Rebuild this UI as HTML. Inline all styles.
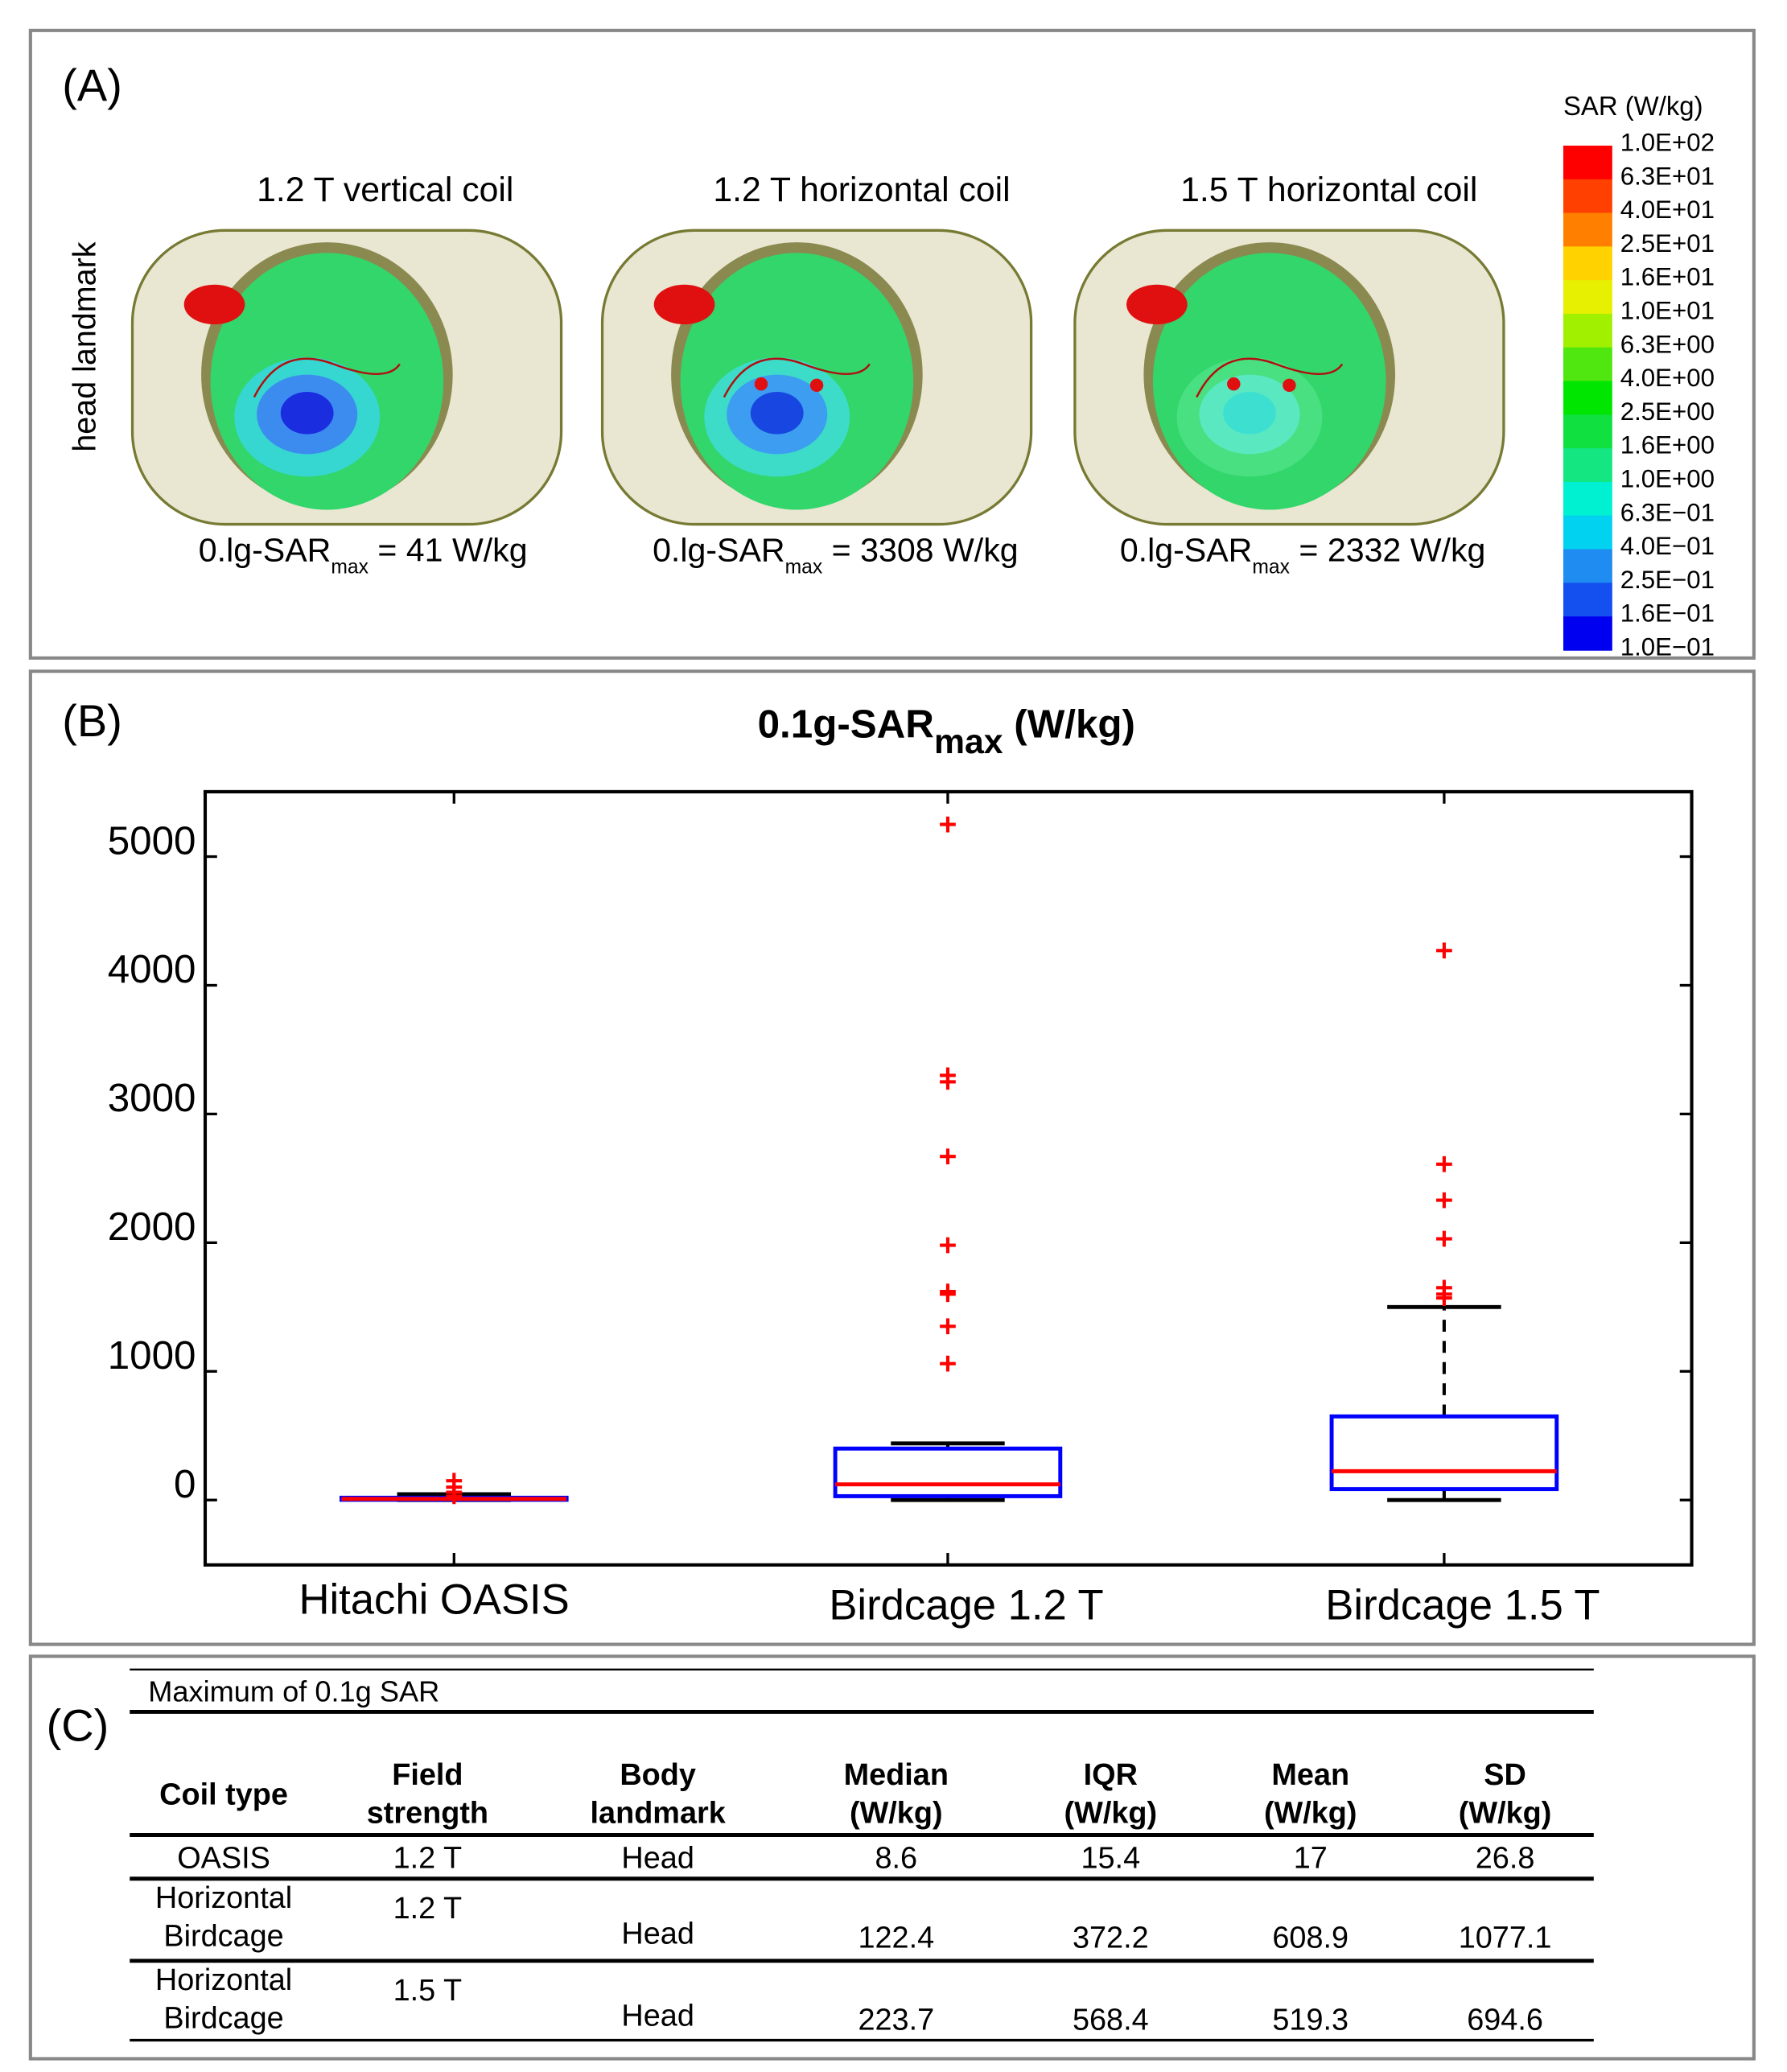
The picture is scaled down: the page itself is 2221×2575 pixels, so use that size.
<!DOCTYPE html>
<html><head><meta charset="utf-8"><style>
html,body{margin:0;padding:0;background:#fff}
svg{display:block}
text{font-family:"Liberation Sans",sans-serif}
</style></head><body>
<svg id="fig" width="2221" height="2575" viewBox="0 0 1350 1565" preserveAspectRatio="none" xmlns="http://www.w3.org/2000/svg">
<!-- Panel A -->
<g>
<rect x="23" y="23" width="1302" height="474" fill="#fff" stroke="#888" stroke-width="2.5"/>
<text x="47" y="76" font-size="34">(A)</text>
<text transform="translate(72,262) rotate(-90)" font-size="24" text-anchor="middle">head landmark</text>
<g id="heads"></g>
<text x="291" y="152" font-size="26" text-anchor="middle">1.2 T vertical coil</text>
<text x="651" y="152" font-size="26" text-anchor="middle">1.2 T horizontal coil</text>
<text x="1004" y="152" font-size="26" text-anchor="middle">1.5 T horizontal coil</text>
<text x="150" y="424" font-size="25">0.lg-SAR<tspan font-size="15" dy="9">max</tspan><tspan dy="-9"> = 41 W/kg</tspan></text>
<text x="493" y="424" font-size="25">0.lg-SAR<tspan font-size="15" dy="9">max</tspan><tspan dy="-9"> = 3308 W/kg</tspan></text>
<text x="846" y="424" font-size="25">0.lg-SAR<tspan font-size="15" dy="9">max</tspan><tspan dy="-9"> = 2332 W/kg</tspan></text>
<text x="1181" y="87" font-size="20">SAR (W/kg)</text>
<g id="cbar"></g>
</g>
<!-- Panel B -->
<g>
<rect x="23" y="507" width="1302" height="735" fill="#fff" stroke="#888" stroke-width="2.5"/>
<text x="47" y="556" font-size="34">(B)</text>
<text x="715" y="557" font-size="30" font-weight="bold" text-anchor="middle">0.1g-SAR<tspan font-size="26" dy="12">max</tspan><tspan dy="-12"> (W/kg)</tspan></text>
<g id="chart"></g>
</g>
<!-- Panel C -->
<g>
<rect x="23" y="1251" width="1302" height="304" fill="#fff" stroke="#888" stroke-width="2.5"/>
<text x="35" y="1315" font-size="34">(C)</text>
<g id="table"></g>
</g>
</svg>
<script>
const NS='http://www.w3.org/2000/svg';
function mk(tag,attrs,parent,txt){const e=document.createElementNS(NS,tag);for(const k in attrs)e.setAttribute(k,attrs[k]);if(txt!==undefined)e.textContent=txt;parent.appendChild(e);return e;}

// ---- chart data ----
const categories=['Hitachi OASIS','Birdcage 1.2 T','Birdcage 1.5 T'];
const q1Values=[2,30,85];
const medianValues=[9,122,224];
const q3Values=[18,400,650];
const whiskerLow=[0,0,0];
const whiskerHigh=[45,440,1500];
const outliers=[[150,100,60,30],[5250,3300,3250,2670,1980,1620,1600,1350,1060],[4270,2610,2330,2030,1650,1600,1570]];
const yTicks=[0,1000,2000,3000,4000,5000];

const PL=155,PR=1278,PT=598,PB=1182;
const yMin=-500,yMax=5500;
const yS=v=>1133-(v-0)*(1133-647)/5000;
const xCenters=[343,716,1091];
const xS=i=>xCenters[i];
const chart=document.getElementById('chart');
const axesBox=mk('rect',{x:PL,y:PT,width:PR-PL,height:PB-PT,fill:'none',stroke:'#000','stroke-width':2.5},chart);


yTicks.forEach(t=>{
  const y=yS(t);
  mk('line',{x1:PL,x2:PL+9,y1:y,y2:y,stroke:'#000','stroke-width':2},chart);
  mk('line',{x1:PR-9,x2:PR,y1:y,y2:y,stroke:'#000','stroke-width':2},chart);
  const tl=mk('text',{x:148,y:y-2,'font-size':30,'text-anchor':'end'},chart,String(t));
  
  
});
categories.forEach((c,i)=>{
  const x=xS(i);
  mk('line',{x1:x,x2:x,y1:PT,y2:PT+9,stroke:'#000','stroke-width':2},chart);
  mk('line',{x1:x,x2:x,y1:PB-9,y2:PB,stroke:'#000','stroke-width':2},chart);
  const lab=mk('text',{x:i==0?x-15:x+14,y:i==0?1219:1223,'font-size':32,'text-anchor':'middle'},chart,c);
  
  
  const g=mk('g',{},chart);
  
  
  const hw=85, cw=43;
  mk('line',{x1:x,x2:x,y1:yS(q3Values[i]),y2:yS(whiskerHigh[i]),stroke:'#000','stroke-width':2.5,'stroke-dasharray':'9,7'},g);
  mk('line',{x1:x,x2:x,y1:yS(q1Values[i]),y2:yS(whiskerLow[i]),stroke:'#000','stroke-width':2.5,'stroke-dasharray':'9,7'},g);
  mk('line',{x1:x-cw,x2:x+cw,y1:yS(whiskerHigh[i]),y2:yS(whiskerHigh[i]),stroke:'#000','stroke-width':3},g);
  mk('line',{x1:x-cw,x2:x+cw,y1:yS(whiskerLow[i]),y2:yS(whiskerLow[i]),stroke:'#000','stroke-width':3},g);
  mk('rect',{x:x-hw,y:yS(q3Values[i]),width:2*hw,height:Math.max(1,yS(q1Values[i])-yS(q3Values[i])),fill:'none',stroke:'#00f','stroke-width':3},g);
  mk('line',{x1:x-hw,x2:x+hw,y1:yS(medianValues[i]),y2:yS(medianValues[i]),stroke:'#f00','stroke-width':3},g);
  outliers[i].forEach(v=>{
    const y=yS(v);
    const o=mk('path',{d:`M${x-6} ${y}H${x+6}M${x} ${y-6}V${y+6}`,stroke:'#f00','stroke-width':2.5},g);
    
    
  });
});

// ---- panel A illustration ----
const heads=document.getElementById('heads');
const headX=[262,617,974];
const headInner=[['#1a2ee0','#3c8cf0','#35d7d0'],['#1747e0','#3d9df0','#3cdcc8'],['#3de0d0','#5ae8c0','#48e080']];
headX.forEach((cx,i)=>{
  const g=mk('g',{},heads);
  
  
  mk('rect',{x:cx-162,y:174,width:324,height:222,rx:70,fill:'#e9e6d2',stroke:'#777a33','stroke-width':2},g);
  mk('ellipse',{cx:cx-15,cy:283,rx:95,ry:100,fill:'#8a8a50'},g);
  mk('ellipse',{cx:cx-15,cy:288,rx:88,ry:97,fill:'#32d66a'},g);
  mk('ellipse',{cx:cx-30,cy:315,rx:55,ry:45,fill:headInner[i][2]},g);
  mk('ellipse',{cx:cx-30,cy:313,rx:38,ry:30,fill:headInner[i][1]},g);
  mk('ellipse',{cx:cx-30,cy:312,rx:20,ry:16,fill:headInner[i][0]},g);
  mk('ellipse',{cx:cx-100,cy:230,rx:23,ry:15,fill:'#e01010'},g);
  mk('path',{d:`M${cx-70} 300 Q${cx-50} 260 ${cx-10} 275 T${cx+40} 275`,fill:'none',stroke:'#b01010','stroke-width':1.5},g);
  if(i>0){mk('circle',{cx:cx-42,cy:290,r:5,fill:'#e01010'},g);mk('circle',{cx:cx,cy:291,r:5,fill:'#e01010'},g);}
});
const cbarColors=['#ff0000','#ff4000','#ff8000','#ffd200','#e6f000','#a0f000','#50e610','#00e600','#10e040','#14e682','#00f0d2','#00d2f0','#1e8cf0','#1450f0','#0000f0'];
const cbarLabels=['1.0E+02','6.3E+01','4.0E+01','2.5E+01','1.6E+01','1.0E+01','6.3E+00','4.0E+00','2.5E+00','1.6E+00','1.0E+00','6.3E−01','4.0E−01','2.5E−01','1.6E−01','1.0E−01'];
const cbar=document.getElementById('cbar');
const cbTop=110,cbBot=491,cbH=(cbBot-cbTop)/cbarColors.length;
cbarColors.forEach((c,i)=>{mk('rect',{x:1181,y:cbTop+i*cbH,width:37,height:cbH+0.5,fill:c},cbar);});
cbarLabels.forEach((l,i)=>{
  const t=mk('text',{x:1224,y:cbTop+i*cbH+4,'font-size':19},cbar,l);
  
  
});

// ---- table ----
const tbl=document.getElementById('table');
const colX=[169,323,497,677,839,990,1137];
const lines=[[1261,1.5],[1293,3],[1386,3],[1419,3],[1481,3],[1541,2]];
lines.forEach(([y,w])=>mk('line',{x1:98,x2:1204,y1:y,y2:y,stroke:'#000','stroke-width':w},tbl));
mk('text',{x:112,y:1285,'font-size':22},tbl,'Maximum of 0.1g SAR');
const hdr=[['Coil type'],['Field','strength'],['Body','landmark'],['Median','(W/kg)'],['IQR','(W/kg)'],['Mean','(W/kg)'],['SD','(W/kg)']];
hdr.forEach((h,i)=>{
  if(h.length==1)mk('text',{x:colX[i],y:1363,'font-size':23,'font-weight':'bold','text-anchor':'middle'},tbl,h[0]);
  else{mk('text',{x:colX[i],y:1348,'font-size':23,'font-weight':'bold','text-anchor':'middle'},tbl,h[0]);mk('text',{x:colX[i],y:1377,'font-size':23,'font-weight':'bold','text-anchor':'middle'},tbl,h[1]);}
});
const r1=['OASIS','1.2 T','Head','8.6','15.4','17','26.8'];
r1.forEach((v,i)=>mk('text',{x:colX[i],y:1411,'font-size':23,'text-anchor':'middle'},tbl,v));
[[1441,'1.2 T',['122.4','372.2','608.9','1077.1']],[1503,'1.5 T',['223.7','568.4','519.3','694.6']]].forEach(([y,f,vals])=>{
  mk('text',{x:colX[0],y:y,'font-size':23,'text-anchor':'middle'},tbl,'Horizontal');
  mk('text',{x:colX[0],y:y+29,'font-size':23,'text-anchor':'middle'},tbl,'Birdcage');
  mk('text',{x:colX[1],y:y+8,'font-size':23,'text-anchor':'middle'},tbl,f);
  mk('text',{x:colX[2],y:y+27,'font-size':23,'text-anchor':'middle'},tbl,'Head');
  vals.forEach((v,i)=>mk('text',{x:colX[i+3],y:y+30,'font-size':23,'text-anchor':'middle'},tbl,v));
});
</script>
</body></html>
